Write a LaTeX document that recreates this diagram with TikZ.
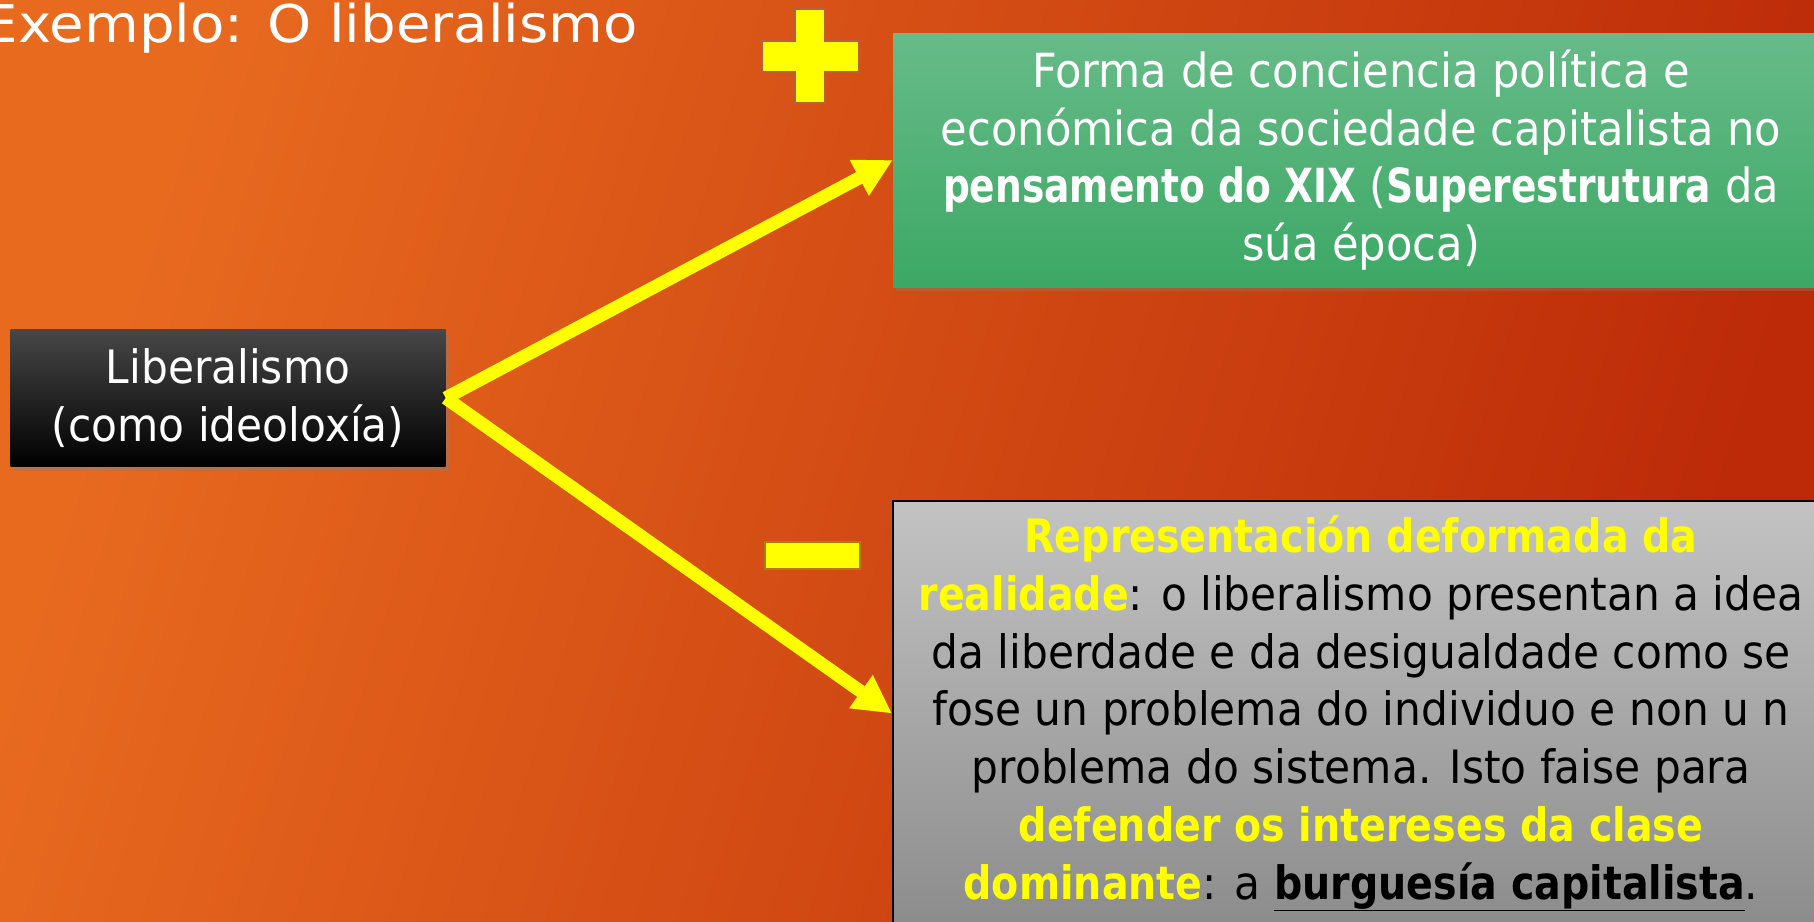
\documentclass[tikz,border=0pt]{standalone}
\usepackage{fontspec}
\setmainfont{DejaVu Sans}[FakeStretch=0.92, BoldFeatures={FakeStretch=0.86}]
\newfontfamily\narrowfam{DejaVu Sans}[FakeStretch=0.92, BoldFeatures={FakeStretch=0.80}]
\newfontfamily\titlefont{DejaVu Sans}[FakeStretch=1.08]
\usepackage{tikz}
\usetikzlibrary{positioning,arrows.meta,shadows}
\definecolor{bgleft}   {HTML}{E86A1F}
\definecolor{bgright}  {HTML}{BC2A08}
\definecolor{signyel}  {HTML}{FFFF00}
\definecolor{plusedge} {HTML}{B5603F}
\definecolor{minusedge}{HTML}{B07A10}
\definecolor{greentop} {HTML}{67BB88}
\definecolor{greenbot} {HTML}{3CA865}
\definecolor{graytop}  {HTML}{C3C3C3}
\definecolor{graybot}  {HTML}{8C8C8C}
\definecolor{blacktop} {HTML}{474747}
\tikzset{
  % --- nodes
  box/.style    = {align=center, inner sep=0pt, text=white},
  darkbox/.style= {box, top color=blacktop, middle color=black, bottom color=black,
                   minimum width=435pt, minimum height=137pt,
                   font=\fontsize{46}{58}\selectfont,
                   drop shadow={opacity=0.35, shadow xshift=3pt, shadow yshift=-4pt}},
  plusbox/.style= {box, top color=greentop, bottom color=greenbot,
                   minimum width=936pt, minimum height=254pt,
                   font=\narrowfam\fontsize{47}{57.5}\selectfont,
                   drop shadow={opacity=0.35, shadow xshift=3pt, shadow yshift=-4pt}},
  minusbox/.style={box, text=black, top color=graytop, bottom color=graybot,
                   draw=black, line width=2pt,
                   minimum width=936pt, minimum height=425pt,
                   font=\fontsize{46}{57.8}\selectfont},
  heading/.style= {text=white, inner sep=0pt, font=\titlefont\fontsize{52}{60}\selectfont},
  sign/.style   = {fill=signyel, line width=2pt},
  % --- edges
  e/.style      = {-{Triangle[length=38pt,width=38pt]}, line width=13pt, draw=signyel},
}
\newcommand{\hl}[1]{\textbf{\color{signyel}#1}}

\begin{document}
\begin{tikzpicture}[x=1pt,y=-1pt]
  \useasboundingbox (0,0) rectangle (1814,921);
  \clip (0,0) rectangle (1814,921);
  \shade[left color=bgleft,right color=bgright,shading angle=73] (0,0) rectangle (1814,921);

  \node[heading, anchor=base east] (title) at (638,42) {Exemplo: O liberalismo};

  \node[darkbox] (lib) at (228,398) {Liberalismo\\(como ideoloxía)};
  \node[plusbox] (pos) at (1361,160)
    {Forma de conciencia política e\\económica da sociedade capitalista no\\
     \textbf{pensamento do XIX} (\textbf{Superestrutura} da\\súa época)};
  \node[minusbox] (neg) at (1361,713.5)
    {\hl{Representación deformada da}\\
     \hl{realidade}: o liberalismo presentan a idea\\
     da liberdade e da desigualdade como se\\
     fose un problema do individuo e non u n\\
     problema do sistema. Isto faise para\\
     \hl{defender os intereses da clase}\\
     \hl{dominante}: a \textbf{\underline{burguesía capitalista}}.};

  % plus and minus signs
  \filldraw[sign, draw=plusedge] (795,9) -- (825,9) -- (825,41) -- (859,41) -- (859,72)
    -- (825,72) -- (825,103) -- (795,103) -- (795,72) -- (762,72) -- (762,41) -- (795,41) -- cycle;
  \filldraw[sign, draw=minusedge] (765,542) rectangle (860,569);

  \draw[e] (lib.east) -- (pos.west);
  \draw[e] (lib.east) -- (neg.west);
\end{tikzpicture}
\end{document}
